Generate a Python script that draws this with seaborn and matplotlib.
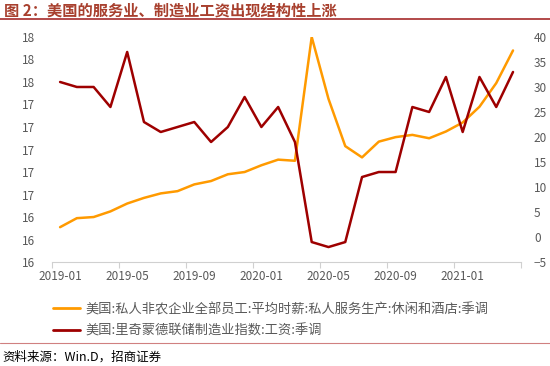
# 美国服务业 vs 制造业工资 (monthly, 2019-01 to 2021-04)
import numpy as np
import pandas as pd
import matplotlib
matplotlib.use('Agg')
import matplotlib.pyplot as plt
from matplotlib.lines import Line2D
import seaborn as sns

sns.set_theme(style='white')
plt.rcParams['font.family'] = ['Noto Sans CJK SC', 'DejaVu Sans']

# data
months = ['2019-01', '2019-02', '2019-03', '2019-04', '2019-05', '2019-06', '2019-07',
          '2019-08', '2019-09', '2019-10', '2019-11', '2019-12', '2020-01', '2020-02',
          '2020-03', '2020-04', '2020-05', '2020-06', '2020-07', '2020-08', '2020-09',
          '2020-10', '2020-11', '2020-12', '2021-01', '2021-02', '2021-03', '2021-04']
wage_leisure = [16.31, 16.39, 16.40, 16.45, 16.52, 16.57, 16.61, 16.63, 16.69, 16.72,
                16.78, 16.80, 16.86, 16.91, 16.90, 18.00, 17.45, 17.03, 16.93, 17.07,
                17.11, 17.13, 17.10, 17.16, 17.24, 17.38, 17.59, 17.88]
richmond_wage = [31, 30, 30, 26, 37, 23, 21, 22, 23, 19, 22, 28, 22, 26,
                 19, -1, -2, -1, 12, 13, 13, 26, 25, 32, 21, 32, 26, 33]
left_ticks = [16.0, 16.2, 16.4, 16.6, 16.8, 17.0, 17.2, 17.4, 17.6, 17.8, 18.0]
right_ticks = [-5, 0, 5, 10, 15, 20, 25, 30, 35, 40]
label_months = ['2019-01', '2019-05', '2019-09', '2020-01', '2020-05', '2020-09', '2021-01']

name1 = '美国:私人非农企业全部员工:平均时薪:私人服务生产:休闲和酒店:季调'
name2 = '美国:里奇蒙德联储制造业指数:工资:季调'
c1 = '#FF9A00'
c2 = '#9E0000'

df = pd.DataFrame({'month': months, 'leisure': wage_leisure, 'richmond': richmond_wage})
df['pos'] = np.arange(len(df))

fig = plt.figure(figsize=(5.5, 3.66), dpi=100)
ax = fig.add_axes([0.094, 0.284, 0.854, 0.615])
ax2 = ax.twinx()

sns.lineplot(data=df, x='pos', y='leisure', ax=ax, color=c1, linewidth=1.8)
sns.lineplot(data=df, x='pos', y='richmond', ax=ax2, color=c2, linewidth=1.8)

n = len(months)
ax.set_xlim(-0.5, n - 0.5)
ax.set_ylim(16.0, 18.0)
ax2.set_ylim(-5, 40)

# tick marks on month boundaries, labels at the month centres
ax.set_xticks(np.arange(-0.5, n, 4))
ax.set_xticklabels([])
ax.set_xticks([months.index(m) for m in label_months], minor=True)
ax.set_xticklabels(label_months, minor=True)
ax.tick_params(axis='x', which='major', length=4, color='#D0D0D0', width=0.8, direction='out', bottom=True)
ax.tick_params(axis='x', which='minor', length=0, pad=6, labelsize=8.5, labelcolor='#595959')

ax.set_yticks(left_ticks)
ax.set_yticklabels([f'{v:.0f}' for v in left_ticks])
ax.tick_params(axis='y', length=0, pad=12, labelsize=8.5, labelcolor='#595959')
ax2.set_yticks(right_ticks)
ax2.tick_params(axis='y', length=0, pad=9, labelsize=8.5, labelcolor='#595959')

for a in (ax, ax2):
    a.set_xlabel('')
    a.set_ylabel('')
    a.grid(False)
    for s in ['top', 'left', 'right']:
        a.spines[s].set_visible(False)
ax2.spines['bottom'].set_visible(False)
ax.spines['bottom'].set_color('#D0D0D0')
ax.spines['bottom'].set_linewidth(0.8)

# legend below the chart
handles = [Line2D([], [], color=c1, linewidth=2), Line2D([], [], color=c2, linewidth=2)]
fig.legend(handles, [name1, name2], loc='upper left', bbox_to_anchor=(0.075, 0.205),
           frameon=False, fontsize=9.5, handlelength=2.0, handletextpad=0.45,
           labelspacing=0.6, labelcolor='#595959')

# title and source with rules
fig.text(0.008, 0.972, '图 2：美国的服务业、制造业工资出现结构性上涨', fontsize=11,
         fontweight='bold', color='#A8402E', va='center', ha='left')
fig.add_artist(Line2D([0, 1], [0.948, 0.948], color='#A52A2A', linewidth=1.2))
fig.add_artist(Line2D([0, 1], [0.062, 0.062], color='#D08080', linewidth=0.8))
fig.text(0.004, 0.025, '资料来源：Win.D，招商证券', fontsize=9, color='black', va='center', ha='left')

fig.savefig('out.png', dpi=100)
